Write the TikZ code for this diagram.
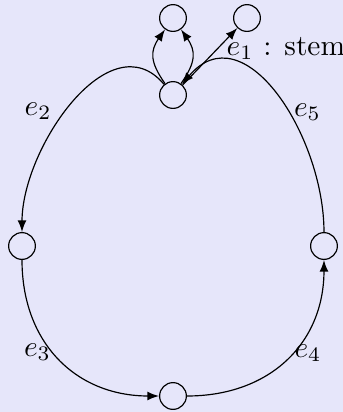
\documentclass[tikz,border=0pt]{standalone}
\definecolor{bgcol}{RGB}{230,230,250}
\begin{document}
\begin{tikzpicture}[x=0.34pt,y=-0.34pt,
  vtx/.style={circle,draw,minimum size=9.1pt,inner sep=0pt},
  arr/.style={-latex},
  lbl/.style={anchor=base,inner sep=0pt}]
\fill[bgcol] (0,0) rectangle (343,412);
\useasboundingbox (0,0) rectangle (343,412);
\node[vtx] (A) at (173,18) {};
\node[vtx] (B) at (247,18) {};
\node[vtx] (M) at (173,95) {};
\node[vtx] (L) at (22,246) {};
\node[vtx] (R) at (324,246) {};
\node[vtx] (D) at (173,396) {};
\draw[arr] (M) to[out=125,in=235,looseness=1.25] (A);
\draw[arr] (M) to[out=55,in=305,looseness=1.25] (A);
\draw[arr] (M) -- (B);
\draw[arr] (M) to[out=130,in=90,looseness=1.05] (L);
\draw[arr] (L) to[out=270,in=180,looseness=1.1] (D);
\draw[arr] (D) to[out=0,in=270,looseness=1.1] (R);
\draw[arr] (R) to[out=90,in=50,looseness=1.2] (M);
\node[lbl,anchor=base west] (t1) at (226,55) {$e_1$ : stem};
\node[lbl] (t2) at (38,115.5) {$e_2$};
\node[lbl] (t5) at (307.5,116.5) {$e_5$};
\node[lbl] (t3) at (37.5,356.5) {$e_3$};
\node[lbl] (t4) at (308,357.5) {$e_4$};
\end{tikzpicture}
\end{document}
